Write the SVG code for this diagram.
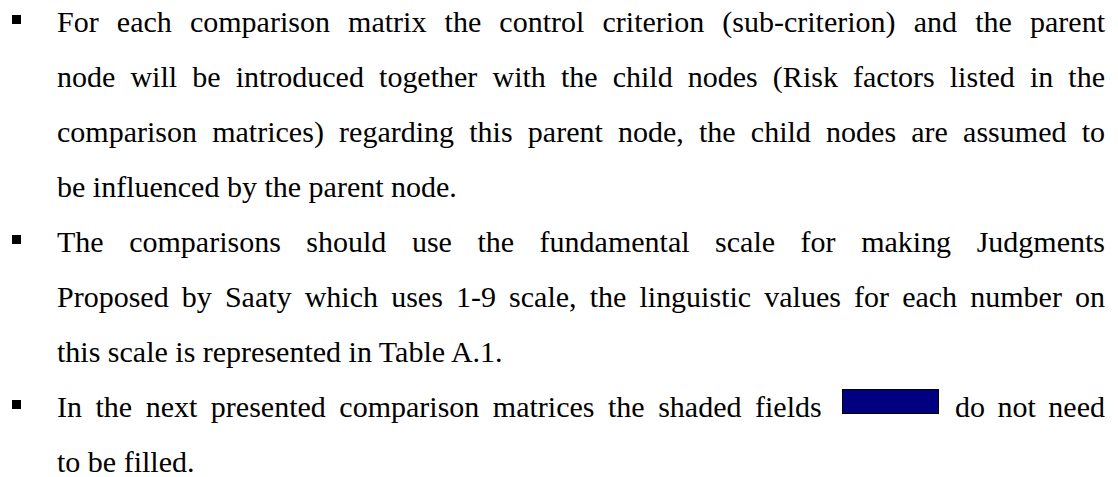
<svg xmlns="http://www.w3.org/2000/svg" width="1118" height="477" viewBox="0 0 1118 477">
  <style>
    .t { font-family: "Liberation Serif", "Times New Roman", serif; font-size: 30px; fill: #000; }
    .b { fill: #000; }
    .shade { fill: #000080; stroke: #000; stroke-width: 1; }
  </style>
  <rect width="1118" height="477" fill="#fff"/>
  <g id="bullet1">
    <rect class="b" x="12" y="15" width="9" height="9"/>
    <text class="t" x="57" y="31.5" word-spacing="10.65" textLength="1048" lengthAdjust="spacing">For each comparison matrix the control criterion (sub-criterion) and the parent</text>
    <text class="t" x="57" y="86.5" word-spacing="7.6" textLength="1048" lengthAdjust="spacing">node will be introduced together with the child nodes (Risk factors listed in the</text>
    <text class="t" x="57" y="141.5" word-spacing="7.7" textLength="1048" lengthAdjust="spacing">comparison matrices) regarding this parent node, the child nodes are assumed to</text>
    <text class="t" x="57" y="196.5">be influenced by the parent node.</text>
  </g>
  <g id="bullet2">
    <rect class="b" x="12" y="235" width="9" height="9"/>
    <text class="t" x="57" y="251.5" word-spacing="18.03" textLength="1048" lengthAdjust="spacing">The comparisons should use the fundamental scale for making Judgments</text>
    <text class="t" x="57" y="306.5" word-spacing="5.63" textLength="1048" lengthAdjust="spacing">Proposed by Saaty which uses 1-9 scale, the linguistic values for each number on</text>
    <text class="t" x="57" y="361.5">this scale is represented in Table A.1.</text>
  </g>
  <g id="bullet3">
    <rect class="b" x="12" y="400" width="9" height="9"/>
    <text class="t" x="57" y="416.5" word-spacing="6" textLength="764.7" lengthAdjust="spacing">In the next presented comparison matrices the shaded fields</text>
    <rect class="shade" x="842.5" y="389.5" width="96" height="24"/>
    <text class="t" x="955" y="416.5" word-spacing="5" textLength="150" lengthAdjust="spacing">do not need</text>
    <text class="t" x="57" y="471.5">to be filled.</text>
  </g>
</svg>
